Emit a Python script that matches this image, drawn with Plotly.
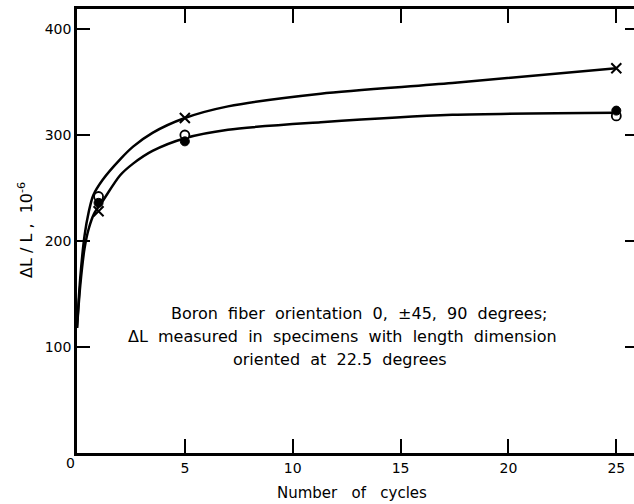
import plotly.graph_objects as go

# Marker data (cycles, strain x1e-6)
cycles = [1, 5, 25]
x_marks = [228, 316, 363]
open_circles = [242, 300, 318]
filled_circles = [236, 294, 323]

# Hand-drawn curves
upper_curve_x = [0, 0.15, 0.35, 0.55, 0.75, 1.2, 2.0, 2.6, 3.5, 5, 7, 11.3, 17.4, 25]
upper_curve_y = [118, 165, 205, 228, 243, 258, 277, 289, 302, 316, 327, 339, 349, 363]
lower_curve_x = [0, 0.15, 0.35, 0.55, 0.8, 1.2, 2.0, 2.6, 3.5, 5, 7, 11.3, 17.4, 25]
lower_curve_y = [118, 158, 193, 212, 226, 238, 262, 273, 285, 297, 305, 312, 319, 321]

x_ticks = [5, 10, 15, 20, 25]
x_tick_text = ["5", "10", "15", "20", "25"]
y_ticks = [100, 200, 300, 400]
y_tick_text = ["100", "200", "300", "400"]
right_ticks = [100, 200, 300, 400]

FONT = "DejaVu Sans"
W, H = 634, 504
L, T, B, R = 77, 9, 51, 0

fig = go.Figure()
line_style = dict(color="black", width=2.5, shape="spline", smoothing=0.8)
fig.add_trace(go.Scatter(x=upper_curve_x, y=upper_curve_y, mode="lines",
                         line=line_style, hoverinfo="skip"))
fig.add_trace(go.Scatter(x=lower_curve_x, y=lower_curve_y, mode="lines",
                         line=line_style, hoverinfo="skip"))
fig.add_trace(go.Scatter(x=cycles, y=x_marks, mode="markers",
                         marker=dict(symbol="x-thin", size=10,
                                     line=dict(color="black", width=2))))
fig.add_trace(go.Scatter(x=cycles, y=open_circles, mode="markers",
                         marker=dict(symbol="circle", size=9, color="white",
                                     line=dict(color="black", width=1.8))))
fig.add_trace(go.Scatter(x=cycles, y=filled_circles, mode="markers",
                         marker=dict(symbol="circle", size=9, color="black",
                                     line=dict(color="black", width=1))))
# trace carrying the right-hand tick axis (drawn with zero width)
fig.add_trace(go.Scatter(x=[10, 11], y=[100, 100], yaxis="y2", mode="lines",
                         line=dict(width=0, color="rgba(0,0,0,0)"), hoverinfo="skip"))

plot_w = W - L - R
plot_h = H - T - B
px_per_unit = (617 - 77.7) / 25
x_max = plot_w / px_per_unit
y_max = (453 - 9) / ((453 - 29) / 400)

fig.update_layout(
    width=W, height=H,
    margin=dict(l=L, r=R, t=T, b=B),
    paper_bgcolor="white", plot_bgcolor="white",
    showlegend=False,
    font=dict(family=FONT, color="black", size=14),
    xaxis=dict(range=[0, x_max], tickvals=x_ticks, ticktext=x_tick_text,
               ticks="inside", ticklen=14, tickwidth=2, tickcolor="black",
               showline=True, linewidth=2.5, linecolor="black", mirror="ticks",
               showgrid=False, zeroline=False,
               tickfont=dict(size=14, family=FONT)),
    yaxis=dict(range=[0, y_max], tickvals=y_ticks, ticktext=y_tick_text,
               ticks="inside", ticklen=13, tickwidth=2, tickcolor="black",
               showline=True, linewidth=2.5, linecolor="black",
               showgrid=False, zeroline=False,
               tickfont=dict(size=14, family=FONT)),
    yaxis2=dict(range=[0, y_max], overlaying="y", side="right",
                tickvals=right_ticks, ticks="inside", ticklen=9,
                tickwidth=2, tickcolor="black", showticklabels=False,
                showline=False, showgrid=False, zeroline=False),
)


def px_x(p):
    return (p - L) / plot_w


def px_y(p):
    return (T + plot_h - p) / plot_h


def note(x, y, text, size, angle=0):
    fig.add_annotation(xref="paper", yref="paper", x=px_x(x), y=px_y(y),
                       xanchor="center", yanchor="middle", text=text,
                       textangle=angle, showarrow=False,
                       font=dict(family=FONT, size=size, color="black"))


note(359, 313, "Boron  fiber  orientation  0,  \u00b145,  90  degrees;", 16)
note(342, 336, "\u0394L  measured  in  specimens  with  length  dimension", 16)
note(340, 359, "oriented  at  22.5  degrees", 16)
note(352, 493, "Number   of   cycles", 15)
note(25, 230, "\u0394L / L ,  10<sup>-6</sup>", 16, angle=-90)
note(70, 463, "0", 14)

fig.write_html("out.html")
